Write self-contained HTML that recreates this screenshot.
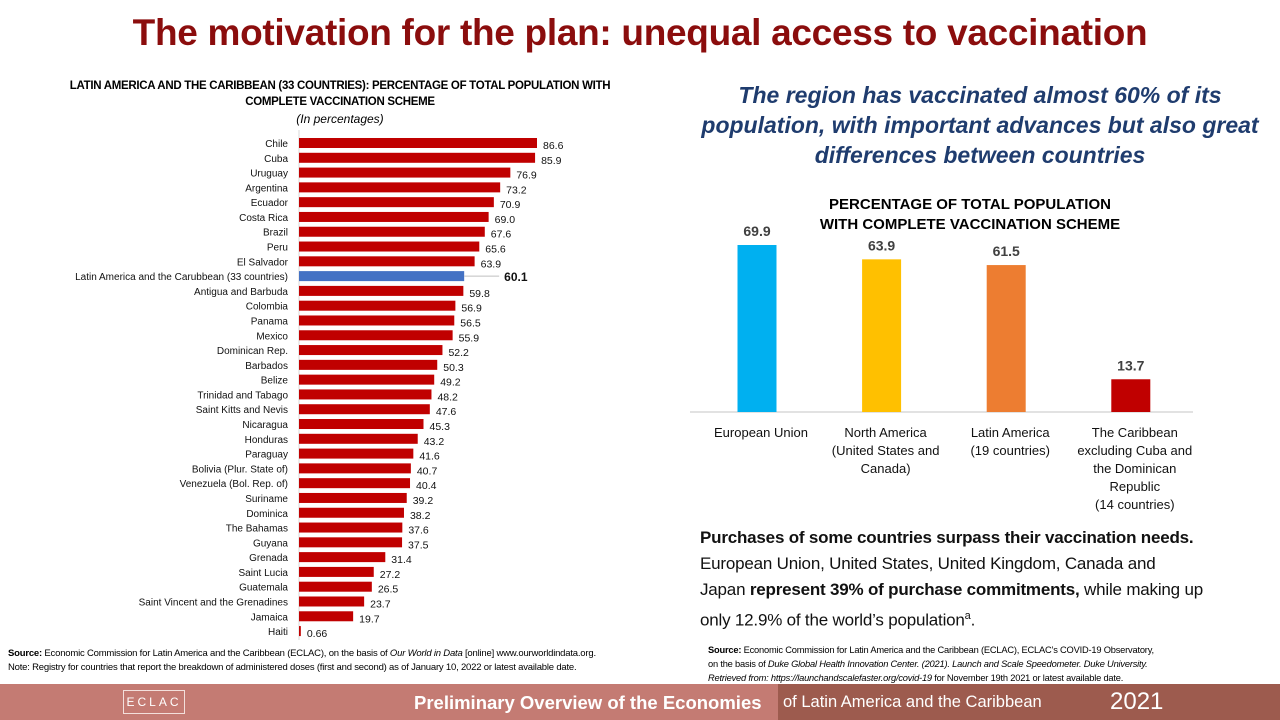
<!DOCTYPE html>
<html><head><meta charset="utf-8">
<style>
body{margin:0;width:1280px;height:720px;background:#fff;position:relative;overflow:hidden;font-family:"Liberation Sans",sans-serif}
.abs{position:absolute}
</style></head><body>
<div class="abs" style="left:0;width:1280px;top:12px;text-align:center;font-size:37px;font-weight:bold;color:#8b0d0d;letter-spacing:-0.3px">The motivation for the plan: unequal access to vaccination</div>
<div class="abs" style="left:20px;width:640px;top:78px;text-align:center;font-size:11.5px;font-weight:bold;line-height:16px;letter-spacing:-0.3px">LATIN AMERICA AND THE CARIBBEAN (33 COUNTRIES): PERCENTAGE OF TOTAL POPULATION WITH<br>COMPLETE VACCINATION SCHEME</div>
<div class="abs" style="left:20px;width:640px;top:112px;text-align:center;font-size:12px;font-style:italic">(In percentages)</div>
<svg class="abs" id="left" style="left:0;top:130px" width="680" height="515"></svg>
<div class="abs" style="left:680px;width:600px;top:80px;text-align:center;font-size:23px;font-weight:bold;font-style:italic;color:#1f3c6e;line-height:30px">The region has vaccinated almost 60% of its population, with important advances but also great differences between countries</div>
<div class="abs" style="left:690px;width:560px;top:195px;text-align:center;font-size:15px;font-weight:bold;line-height:20px">PERCENTAGE OF TOTAL POPULATION<br>WITH COMPLETE VACCINATION SCHEME</div>
<svg class="abs" id="right" style="left:0;top:0" width="1280" height="520"></svg>
<div class="abs" style="left:700px;top:525px;font-size:17px;line-height:26px;color:#111;white-space:nowrap;letter-spacing:-0.2px"><b>Purchases of some countries surpass their vaccination needs.</b><br>European Union, United States, United Kingdom, Canada and<br>Japan <b>represent 39% of purchase commitments,</b> while making up<br>only 12.9% of the world’s population<sup style="font-size:11px">a</sup>.</div>
<div class="abs" style="left:8px;top:647px;font-size:9.5px;line-height:14px;letter-spacing:-0.2px"><b>Source:</b> Economic Commission for Latin America and the Caribbean (ECLAC), on the basis of <i>Our World in Data</i> [online] www.ourworldindata.org.<br>Note: Registry for countries that report the breakdown of administered doses (first and second) as of January 10, 2022 or latest available date.</div>
<div class="abs" style="left:708px;top:643px;font-size:9.3px;line-height:14px;letter-spacing:-0.2px"><b>Source:</b> Economic Commission for Latin America and the Caribbean (ECLAC), ECLAC’s COVID-19 Observatory,<br>on the basis of <i>Duke Global Health Innovation Center. (2021). Launch and Scale Speedometer. Duke University.<br>Retrieved from: https://launchandscalefaster.org/covid-19</i> for November 19th 2021 or latest available date.</div>
<div class="abs" style="left:0;top:684px;width:778px;height:36px;background:#c47b73"></div>
<div class="abs" style="left:778px;top:684px;width:502px;height:36px;background:#9d5b4e"></div>
<div class="abs" style="left:123px;top:690px;width:60px;height:22px;border:1px solid #f3e0dc;color:#fff;font-size:12px;letter-spacing:3px;text-align:center;line-height:22px;overflow:hidden">ECLAC</div>
<div class="abs" style="left:414px;top:692px;font-size:18.5px;color:#fff;white-space:nowrap;font-weight:bold">Preliminary Overview of the Economies</div>
<div class="abs" style="left:783px;top:693px;font-size:16.5px;color:#fff;white-space:nowrap">of Latin America and the Caribbean</div>
<div class="abs" style="left:1110px;top:688px;font-size:24px;color:#fff;white-space:nowrap">2021</div>
<script>
const countries=["Chile","Cuba","Uruguay","Argentina","Ecuador","Costa Rica","Brazil","Peru","El Salvador","Latin America and the Carubbean (33 countries)","Antigua and Barbuda","Colombia","Panama","Mexico","Dominican Rep.","Barbados","Belize","Trinidad and Tabago","Saint Kitts and Nevis","Nicaragua","Honduras","Paraguay","Bolivia (Plur. State of)","Venezuela (Bol. Rep. of)","Suriname","Dominica","The Bahamas","Guyana","Grenada","Saint Lucia","Guatemala","Saint Vincent and the Grenadines","Jamaica","Haiti"];
const values=[86.6,85.9,76.9,73.2,70.9,69.0,67.6,65.6,63.9,60.1,59.8,56.9,56.5,55.9,52.2,50.3,49.2,48.2,47.6,45.3,43.2,41.6,40.7,40.4,39.2,38.2,37.6,37.5,31.4,27.2,26.5,23.7,19.7,0.66];
const labels=["86.6","85.9","76.9","73.2","70.9","69.0","67.6","65.6","63.9","60.1","59.8","56.9","56.5","55.9","52.2","50.3","49.2","48.2","47.6","45.3","43.2","41.6","40.7","40.4","39.2","38.2","37.6","37.5","31.4","27.2","26.5","23.7","19.7","0.66"];
const regions=[["European Union"],["North America","(United States and","Canada)"],["Latin America","(19 countries)"],["The Caribbean","excluding Cuba and","the Dominican","Republic","(14 countries)"]];
const regionValues=[69.9,63.9,61.5,13.7];
const regionColors=["#00b0f0","#ffc000","#ed7d31","#c00000"];
const NS="http://www.w3.org/2000/svg";
function mk(svg,t,a,txt){const e=document.createElementNS(NS,t);for(const k in a)e.setAttribute(k,a[k]);if(txt!=null)e.textContent=txt;svg.appendChild(e);return e;}
const L=document.getElementById('left');
const x0=299, kx=238/86.6, y0=13, dy=14.79;
const xs=v=>x0+v*kx, ys=i=>y0+i*dy;
mk(L,'line',{x1:x0,y1:0,x2:x0,y2:510,stroke:'#d9d9d9','stroke-width':1});
countries.forEach((c,i)=>{
 const avg=i===9;
 const t=mk(L,'text',{x:x0-11,y:ys(i)+4,'text-anchor':'end','font-size':10,fill:'#111'},c);
 
 
 const r=mk(L,'rect',{x:x0,y:ys(i)-5,width:Math.max(xs(values[i])-x0,1.5),height:10,fill:avg?'#4472c4':'#c00000'});
 
 
 if(avg) mk(L,'line',{x1:xs(values[i]),y1:ys(i),x2:xs(values[i])+35,y2:ys(i),stroke:'#bfbfbf','stroke-width':1});
 const v=mk(L,'text',{x:xs(values[i])+(avg?40:6),y:ys(i)+(avg?5:6),'font-size':avg?12:10.5,'font-weight':avg?'bold':'normal',fill:'#111'},labels[i]);
 
 
});
const R=document.getElementById('right');
const base=412, ky=167/69.9, cx0=757, dcx=124.6, bw=39;
const cx=i=>cx0+i*dcx, hy=v=>base-v*ky;
mk(R,'line',{x1:690,y1:base,x2:1193,y2:base,stroke:'#d9d9d9','stroke-width':1.5});
regionValues.forEach((v,i)=>{
 const r=mk(R,'rect',{x:cx(i)-bw/2,y:hy(v),width:bw,height:base-hy(v),fill:regionColors[i]});
 
 
 const t=mk(R,'text',{x:cx(i),y:hy(v)-9,'text-anchor':'middle','font-size':14,'font-weight':'bold',fill:'#404040'},v.toFixed(1));
 
 
 regions[i].forEach((ln,j)=>{
  const l=mk(R,'text',{x:cx(i)+4,y:437+j*18,'text-anchor':'middle','font-size':13,fill:'#111'},ln);
  
  
 });
});
</script>
</body></html>
